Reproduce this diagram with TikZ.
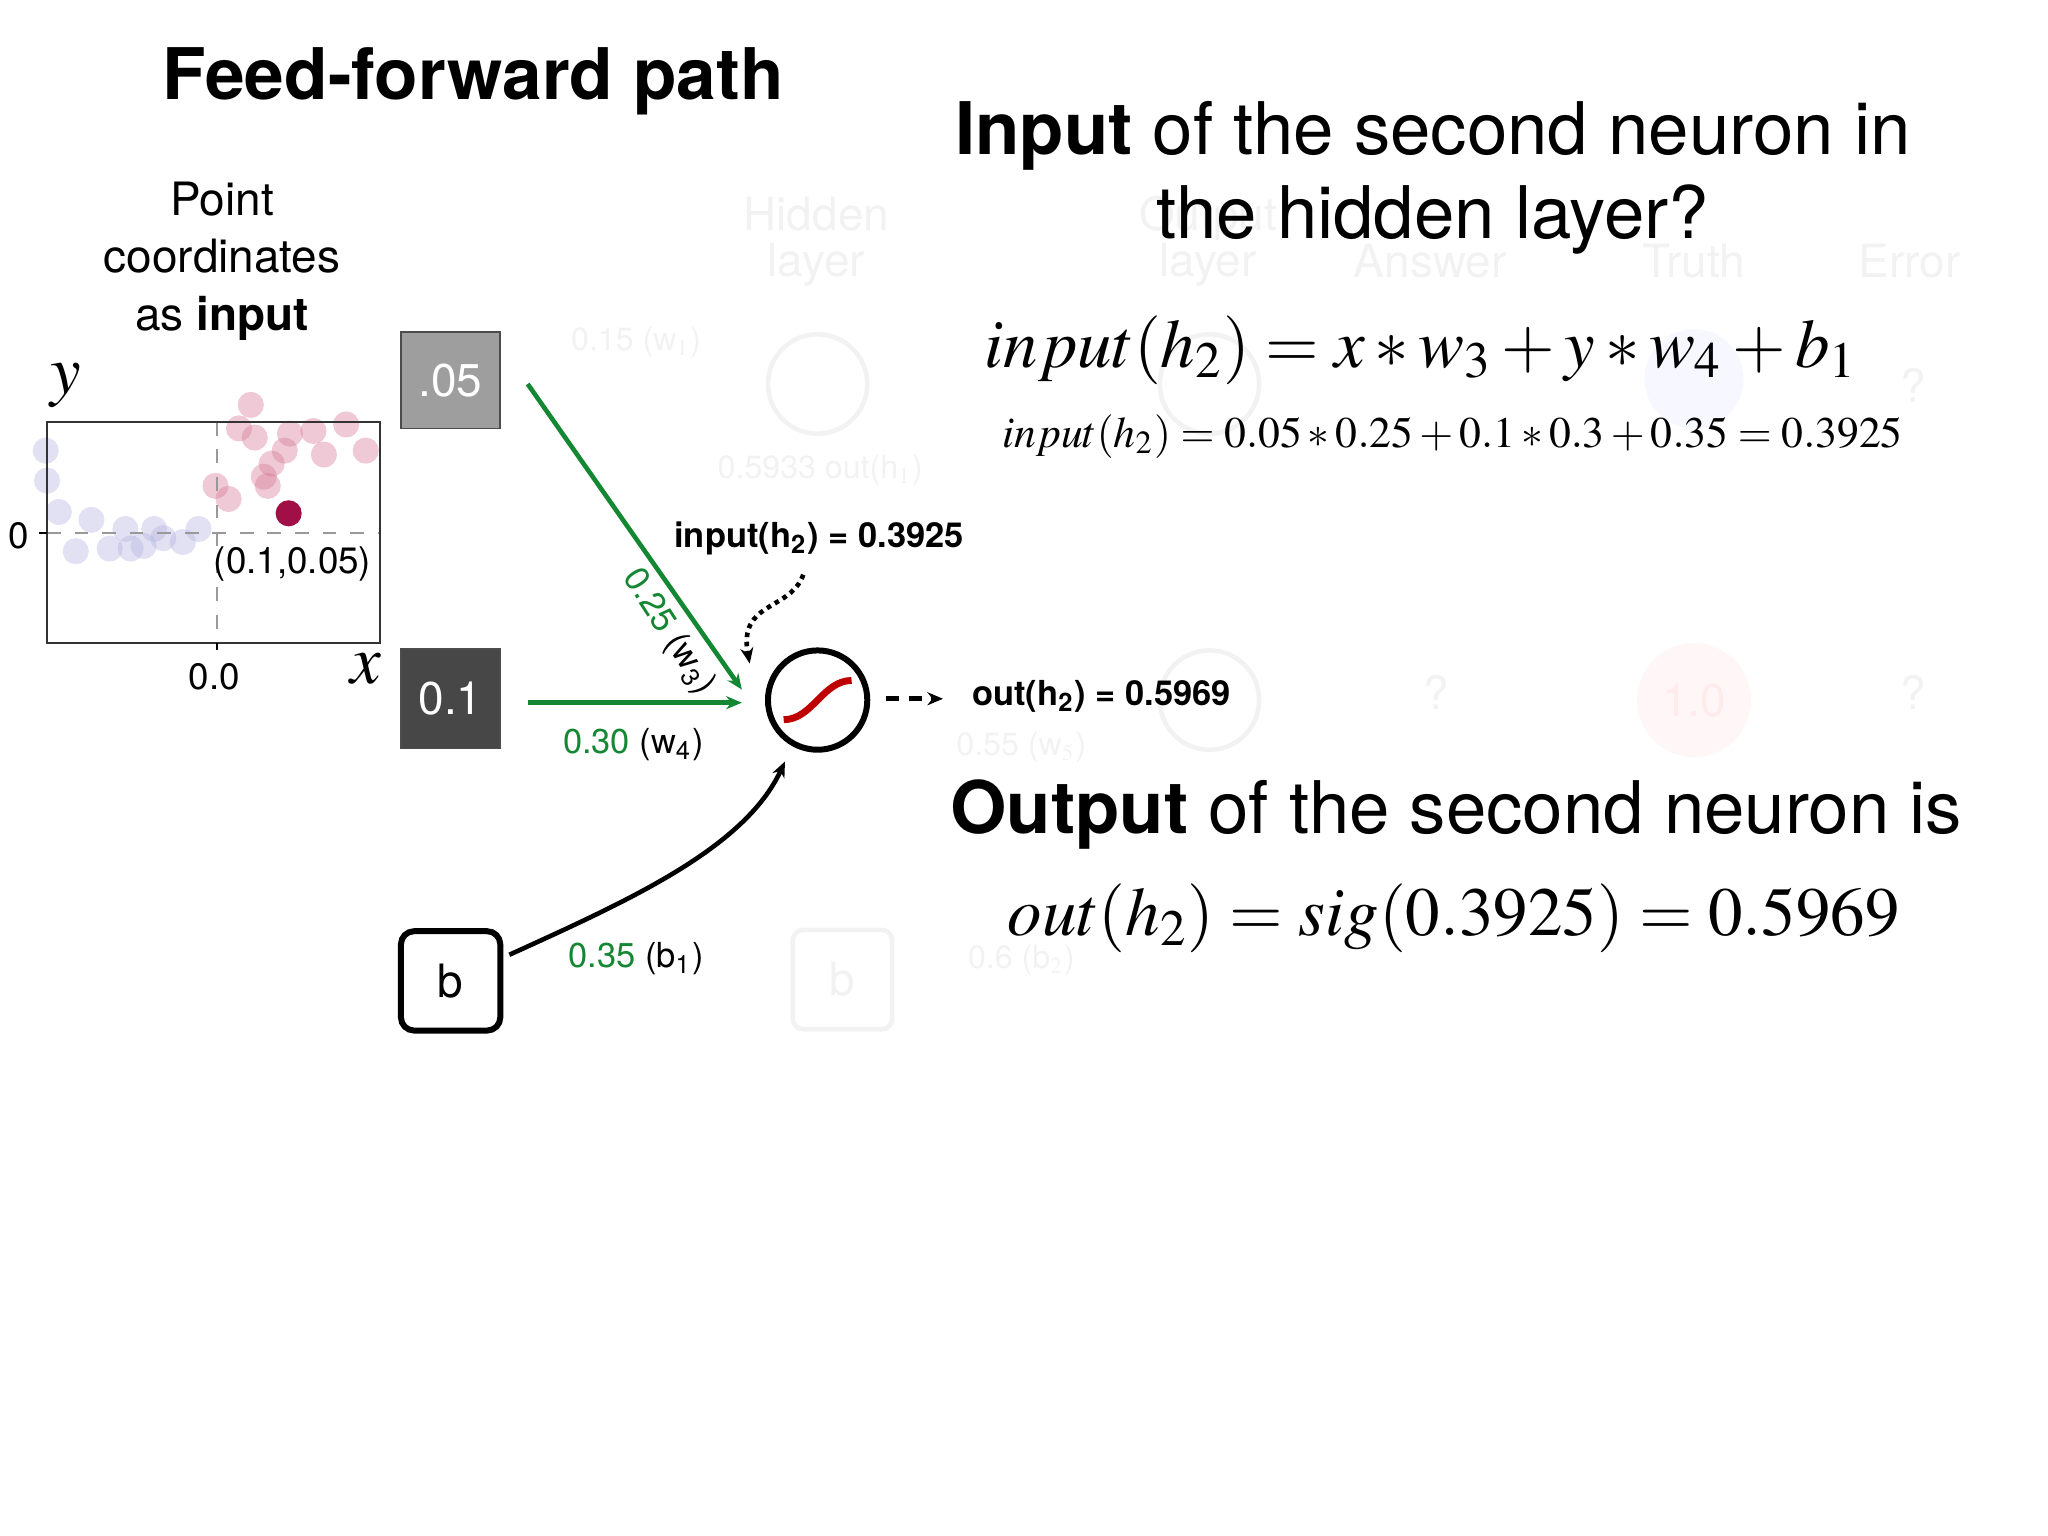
\documentclass[tikz,border=0pt]{standalone}
\usepackage{mathptmx}
\usepackage{fontspec}
\setmainfont{TeX Gyre Heros}
\usetikzlibrary{arrows.meta}
\definecolor{gr}{RGB}{20,135,50}
\definecolor{dotc}{RGB}{160,15,70}
\definecolor{ghost}{RGB}{242,242,242}
\definecolor{pink}{RGB}{215,120,150}
\definecolor{lav}{RGB}{180,180,225}
\begin{document}
\begin{tikzpicture}[x=0.01cm,y=-0.01cm,
  fs/.style={font=\fontsize{#1}{#1}\selectfont},
  ghostt/.style={text=ghost,fs=10pt,align=center},
  pt/.style={circle,fill=#1,opacity=0.4,minimum size=0.2cm,inner sep=0pt},
  arr/.style={-{Stealth[length=0.12cm,width=0.1cm]}}]
\useasboundingbox (0,0) rectangle (1568,1176);
% ghost background
\node[ghostt] (g1) at (625,185) {Hidden\\layer};
\node[ghostt] (g2) at (925,185) {Output\\layer};
\node[ghostt] (g3) at (1095,200) {Answer};
\node[ghostt] (g4) at (1297,200) {Truth};
\node[ghostt] (g5) at (1462,200) {Error};
\node[ghostt,fs=7pt] (g6) at (487,262) {0.15 (w$_1$)};
\node[ghostt,fs=7pt] (g7) at (628,360) {0.5933 out(h$_1$)};
\node[ghostt,fs=7pt] (g8) at (782,572) {0.55 (w$_5$)};
\node[ghostt,fs=7pt] (g9) at (782,735) {0.6 (b$_2$)};
\node[draw=ghost,circle,minimum size=0.76cm,line width=1pt] (gc1) at (626,294) {};
\node[draw=ghost,circle,minimum size=0.76cm,line width=1pt] (gc2) at (926,294) {};
\node[draw=ghost,circle,minimum size=0.76cm,line width=1pt] (gc3) at (926,536) {};
\node[draw=ghost,rounded corners=0.08cm,minimum width=0.76cm,minimum height=0.76cm,line width=1pt,text=ghost,fs=10pt] (gb) at (645,750) {b};
\node[ghostt] (q1) at (1100,530) {?};
\node[ghostt] (q2) at (1465,530) {?};
\node[ghostt] (q3) at (1465,295) {?};
\node[circle,fill=red!3,minimum size=0.76cm,text=red!8,fs=10pt] (gt) at (1297,536) {1.0};
\node[circle,fill=blue!3,minimum size=0.76cm] (gt2) at (1297,290) {};
% title
\node (title) at (362,62) {\fontsize{15.5pt}{18pt}\selectfont\bfseries Feed-forward path};
\node[align=center,font=\fontsize{10pt}{12.6pt}\selectfont] (pc) at (170,200) {Point\\coordinates\\as \textbf{input}};
% plot
\foreach \x/\y in {35/345, 36/368, 45/392, 58/422, 70/398, 84/420, 96/405, 110/418, 125/412, 140/415, 152/405, 100/420, 118/405}
  \node[pt=lav] at (\x,\y) {};
\foreach \x/\y in {165/372, 175/382, 183/328, 195/335, 208/355, 205/372, 218/345, 222/332, 240/330, 248/348, 265/325, 280/345, 192/310, 202/365}
  \node[pt=pink] at (\x,\y) {};
\draw[black!40,dashed] (36,408) -- (291,408);
\draw[black!40,dashed] (166,323) -- (166,492);
\draw[black!80] (36,323) rectangle (291,492);
\draw (166,492) -- (166,498);
\draw (30,408) -- (36,408);
\node[fs=8pt] (z0) at (14,410) {0};
\node[fs=8pt] (zx) at (164,518) {0.0};
\node[fs=15pt] (ly) at (50,295) {$y$};
\node[fs=15pt] (lx) at (280,512) {$x$};
\node[circle,fill=dotc,minimum size=0.2cm,inner sep=0pt] (dot) at (221,393) {};
\node[fs=8pt] (pl) at (224,432) {(0.1,0.05)};
% inputs
\node[draw=black!70,fill=black!38,minimum width=0.76cm,minimum height=0.74cm,text=white,fs=10pt] (i1) at (345,291) {.05};
\node[draw=black!70,fill=black!72,minimum width=0.76cm,minimum height=0.76cm,text=white,fs=10pt] (i2) at (345,535) {0.1};
\node[draw,line width=1.3pt,rounded corners=0.1cm,minimum width=0.76cm,minimum height=0.76cm,fs=10pt] (b) at (345,751) {b};
% neuron
\node[draw,circle,line width=1.3pt,minimum size=0.76cm] (n) at (626,536) {};
\draw[red!75!black,line width=1.5pt] (600,551) .. controls (622,551) and (630,521) .. (652,521);
% connectors
\coordinate (s1) at (404,294);
\coordinate (e1) at (568,528);
\coordinate (s2) at (404,538);
\coordinate (e2) at (568,538);
\draw[gr,line width=1pt,arr] (s1) -- (e1);
\draw[gr,line width=1pt,arr] (s2) -- (e2);
\coordinate (s3) at (390,731);
\coordinate (e3) at (601,583);
\draw[line width=1pt,arr] (s3) .. controls (480,690) and (570,650) .. (e3);
\node[fs=7.5pt,rotate=-57] (l1) at (512,484) {\textcolor{gr}{0.25} (w\textsubscript{3})};
\node[fs=7.5pt] (l2) at (485,570) {\textcolor{gr}{0.30} (w\textsubscript{4})};
\node[fs=7.5pt] (l3) at (487,734) {\textcolor{gr}{0.35} (b\textsubscript{1})};
\node (lin) at (627,412) {\fontsize{7.5pt}{9pt}\selectfont\bfseries input(h\textsubscript{2}) = 0.3925};
\coordinate (d1) at (615,440);
\coordinate (d2) at (574,508);
\draw[densely dotted,line width=1pt,arr] (d1) .. controls (605,468) and (565,460) .. (d2);
\coordinate (o1) at (678,535);
\coordinate (o2) at (722,535);
\draw[densely dashed,line width=1pt,arr] (o1) -- (o2);
\node[anchor=west] (lout) at (732,533) {\fontsize{7.5pt}{9pt}\selectfont\bfseries out(h\textsubscript{2}) = 0.5969};
% right text
\node[align=center,font=\fontsize{15.8pt}{18.2pt}\selectfont] (q) at (1097,136) {\textbf{Input} of the second neuron in\\the hidden layer?};
\node (f1) at (1088,268) {\fontsize{15pt}{17pt}\selectfont $input(h_2) = x * w_3 + y * w_4 + b_1$};
\node (f2) at (1112,334) {\fontsize{9.5pt}{11pt}\selectfont $input(h_2) = 0.05 * 0.25 + 0.1 * 0.3 + 0.35 = 0.3925$};
\node (o) at (1115,624) {\fontsize{15.8pt}{18pt}\selectfont\textbf{Output} of the second neuron is};
\node (f3) at (1113,703) {\fontsize{15pt}{17pt}\selectfont $out(h_2) = sig(0.3925) = 0.5969$};
\end{tikzpicture}
\end{document}
